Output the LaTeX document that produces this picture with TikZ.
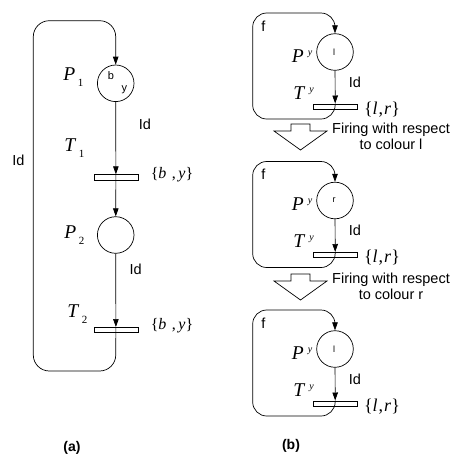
\documentclass[tikz,border=0pt]{standalone}
\usepackage{fontspec}
\setmainfont{Liberation Sans}
\newfontfamily\tms{Liberation Serif}
\usetikzlibrary{arrows.meta}
\begin{document}
\begin{tikzpicture}[x=1pt,y=-1pt,line width=0.7pt,
  place/.style={circle,draw,minimum size=36.6pt,inner sep=0pt},
  trans/.style={rectangle,draw,minimum width=44pt,minimum height=5.3pt,inner sep=0pt},
  arc/.style={-{Triangle[length=8pt,width=5.5pt]}},
  loopline/.style={arc,rounded corners=16pt},
  lab/.style={inner sep=0pt,font=\fontsize{14.5}{17}\selectfont},
  tok/.style={inner sep=0pt,font=\fontsize{11}{12}\selectfont},
  smtok/.style={inner sep=0pt,font=\fontsize{9}{10}\selectfont},
  mlab/.style={inner sep=0pt,anchor=base west,font=\tms\fontsize{19.5}{19.5}\selectfont},
  setlab/.style={inner sep=0pt,font=\tms\fontsize{16}{16}\selectfont},
  setlabb/.style={inner sep=0pt,font=\tms\fontsize{18}{18}\selectfont},
  hollow/.style={draw,line width=0.7pt,line join=miter}
]
\useasboundingbox (0,0) rectangle (454,459);

% ---------------- panel (a)
\node[place] (P1) at (115.7,83.3) {};
\node[tok] (b1) at (111,75.5) {b};
\node[tok] (y1) at (124.3,89.5) {y};
\node[trans] (T1) at (115.9,177.3) {};
\node[place] (P2) at (115.7,235) {};
\node[trans] (T2) at (115.9,330) {};
\coordinate (a1) at (115.7,371);
\coordinate (a2) at (33.3,371);
\coordinate (a3) at (33.3,20.7);
\coordinate (a4) at (115.7,20.7);

\draw[arc] (P1) -- (T1.north);
\draw[arc] (T1.north) -- (P2);
\draw[arc] (P2) -- (T2.north);
\draw[loopline] (T2.north) -- (a1) -- (a2) -- (a3) -- (a4) -- (P1.north);

\node[mlab] (lP1) at (63,80) {\textit{P}\hspace{2.5pt}\raisebox{-6pt}{\fontsize{11}{11}\selectfont 1}};
\node[mlab] (lT1) at (64,151) {\textit{T}\hspace{2.5pt}\raisebox{-6pt}{\fontsize{11}{11}\selectfont 1}};
\node[mlab] (lP2) at (64,238) {\textit{P}\hspace{2.5pt}\raisebox{-6pt}{\fontsize{11}{11}\selectfont 2}};
\node[mlab] (lT2) at (67,317) {\textit{T}\hspace{2.5pt}\raisebox{-6pt}{\fontsize{11}{11}\selectfont 2}};
\node[lab] (id1) at (145,124) {Id};
\node[lab] (id2) at (135.7,269) {Id};
\node[lab] (id3) at (18.3,160.7) {Id};
\node[setlab] (s1) at (172,175) {\{\textit{b}\,\,,\,\textit{y}\}};
\node[setlab] (s2) at (172,326) {\{\textit{b}\,\,,\,\textit{y}\}};
\node[lab,font=\bfseries\fontsize{14}{16}\selectfont] (la) at (72,448) {(a)};

% ---------------- panel (b)
\foreach \yo/\tk/\n in {13/l/1,161.5/r/2,310/l/3}{
  \node[place] (Q\n) at (335,\yo+39) {};
  \node[smtok] at (334,\yo+39) {\tk};
  \node[trans] (U\n) at (335.2,\yo+93.5) {};
  \coordinate (c1\n) at (335,\yo+106);
  \coordinate (c2\n) at (252.7,\yo+106);
  \coordinate (c3\n) at (252.7,\yo);
  \coordinate (c4\n) at (335,\yo);
  \draw[arc] (Q\n) -- (U\n.north);
  \draw[arc,rounded corners=14pt] (U\n.north) -- (c1\n) -- (c2\n) -- (c3\n) -- (c4\n) -- (Q\n.north);
  \node[lab] at (263.3,\yo+13) {f};
  \node[mlab] at (291.5,\yo+49) {\textit{P}\hspace{4pt}\raisebox{7pt}{\fontsize{10}{10}\selectfont\textit{y}}};
  \node[mlab] at (293,\yo+86) {\textit{T}\hspace{4pt}\raisebox{7pt}{\fontsize{10}{10}\selectfont\textit{y}}};
  \node[lab] at (355,\yo+69) {Id};
  \node[setlabb] at (382,\yo+96.5) {\{\textit{l}\kern1pt,\kern1pt\textit{r}\}};
}

\foreach \yo/\c in {124/l,274/r}{
  \draw[hollow] (291,\yo) -- (310,\yo) -- (310,\yo+7) -- (327,\yo+7) -- (300.5,\yo+26) -- (274,\yo+7) -- (291,\yo+7) -- cycle;
  \node[lab,align=center,font=\fontsize{14.5}{16}\selectfont] at (391,\yo+12.5) {Firing with respect\\to colour \c};
}
\node[lab,font=\bfseries\fontsize{14}{16}\selectfont] (lb) at (291,446) {(b)};
\end{tikzpicture}
\end{document}
